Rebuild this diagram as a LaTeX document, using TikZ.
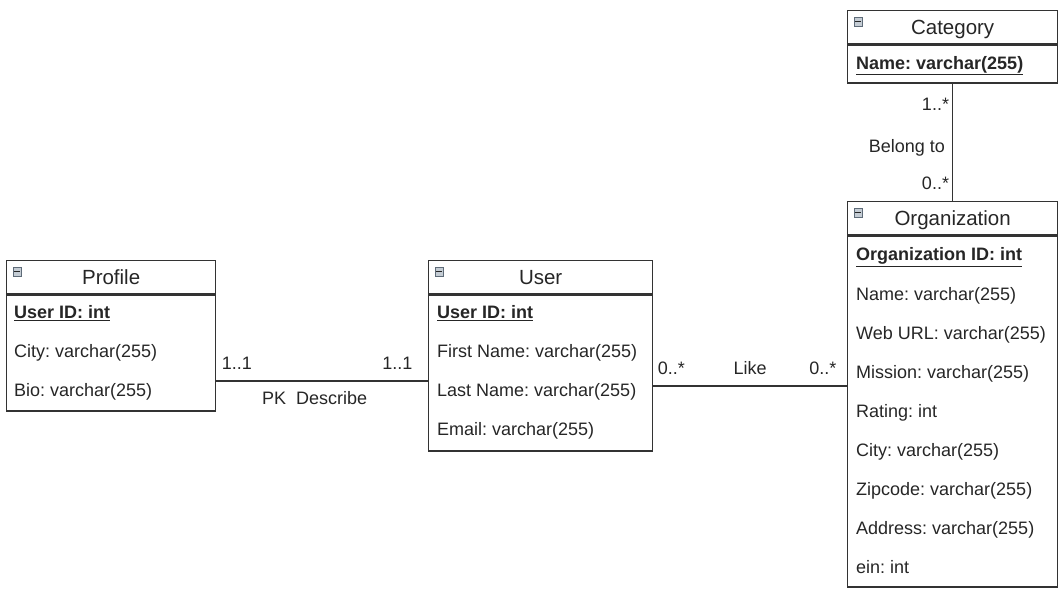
\documentclass[tikz,border=0pt]{standalone}
\usepackage{fontspec}
\setmainfont{Liberation Sans}
\usetikzlibrary{positioning}
\frenchspacing

\newcommand{\rowfont}{\fontsize{18}{21}\selectfont}
\newcommand{\headfont}{\fontsize{20.5}{24}\selectfont}
\definecolor{linegray}{HTML}{333333}
\definecolor{iconfill}{HTML}{C4CCD4}
\definecolor{iconedge}{HTML}{5E6B78}

\tikzset{
  head/.style={draw=linegray, line width=1.3pt, anchor=north west, inner sep=0pt,
    minimum height=33pt, text height=15pt, text depth=0pt, font=\headfont, text=black!85},
  body/.style={draw=linegray, line width=1.3pt, below=0pt of #1, inner sep=0pt},
  field/.style={anchor=west, inner sep=0pt, text height=13pt, text depth=0pt,
    font=\rowfont, text=black!85},
  key/.style={field, font=\rowfont\bfseries},
  lbl/.style={inner sep=0pt, text height=13pt, text depth=0pt, font=\rowfont, text=black!85},
  link/.style={draw=linegray, line width=1.3pt}
}

% small collapse sign in the corner of a header
\newcommand{\fold}[1]{%
  \draw[iconedge, fill=iconfill, line width=0.8pt] ([xshift=7pt,yshift=-7pt]#1.north west) rectangle ++(8,9);
  \draw[black!85, line width=1.8pt] ([xshift=8.3pt,yshift=-11.5pt]#1.north west) -- ++(5.4,0);}

\begin{document}
\begin{tikzpicture}[x=1pt,y=-1pt]
    \useasboundingbox (0,0) rectangle (1063,593);

    % Profile
    \node[head, minimum width=209] (profilehead) at (6,260) {Profile};
    \node[body=profilehead, minimum width=209, minimum height=116] (profile) {};
    \fold{profilehead}
    \node[key] (puid) at (14,312) {\underline{User ID: int}};
    \node[field] (pcity) at (14,351) {City: varchar(255)};
    \node[field] (pbio) at (14,390) {Bio: varchar(255)};

    % User
    \node[head, minimum width=224] (userhead) at (428,260) {User};
    \node[body=userhead, minimum width=224, minimum height=156] (user) {};
    \fold{userhead}
    \node[key] (uid) at (437,312) {\underline{User ID: int}};
    \node[field] (ufirst) at (437,351) {First Name: varchar(255)};
    \node[field] (ulast) at (437,390) {Last Name: varchar(255)};
    \node[field] (umail) at (437,429) {Email: varchar(255)};

    % Organization
    \node[head, minimum width=210] (orghead) at (847,201) {Organization};
    \node[body=orghead, minimum width=210, minimum height=351] (org) {};
    \fold{orghead}
    \node[key] (oid) at (856,254) {\underline{Organization ID: int}};
    \node[field] (oname) at (856,294) {Name: varchar(255)};
    \node[field] (ourl) at (856,333) {Web URL: varchar(255)};
    \node[field] (omission) at (856,372) {Mission: varchar(255)};
    \node[field] (orating) at (856,411) {Rating: int};
    \node[field] (ocity) at (856,450) {City: varchar(255)};
    \node[field] (ozip) at (856,489) {Zipcode: varchar(255)};
    \node[field] (oaddr) at (856,528) {Address: varchar(255)};
    \node[field] (oein) at (856,567) {ein: int};

    % Category
    \node[head, minimum width=210] (cathead) at (847,10) {Category};
    \node[body=cathead, minimum width=210, minimum height=38] (category) {};
    \fold{cathead}
    \node[key] (cname) at (856,63) {\underline{Name: varchar(255)}};

    % relations
    \coordinate (describe) at (0,381);
    \coordinate (like) at (0,386);

    \draw[link] (profile.east |- describe)
        -- node[lbl, pos=0, anchor=south west, xshift=5pt, yshift=10.5pt] (pone) {1..1}
           node[lbl, pos=1, anchor=south east, xshift=-15pt, yshift=10.5pt] (uone) {1..1}
           node[lbl, pos=0.465, below=10pt] (pk) {PK\ \ Describe}
        (user.west |- describe);

    \draw[link] (user.east |- like)
        -- node[lbl, pos=0, anchor=south west, xshift=4pt, yshift=11pt] (ulike) {0..*}
           node[lbl, pos=1, anchor=south east, xshift=-10pt, yshift=11pt] (olike) {0..*}
           node[lbl, pos=0.5, above=11pt] (likes) {Like}
        (org.west |- like);

    \draw[link] (category.south)
        -- node[lbl, pos=0.175, left=3pt] (cmany) {1..*}
           node[lbl, pos=0.533, left=7pt] (belong) {Belong to}
           node[lbl, pos=0.85, left=3pt] (omany) {0..*}
        (orghead.north);

\end{tikzpicture}
\end{document}
